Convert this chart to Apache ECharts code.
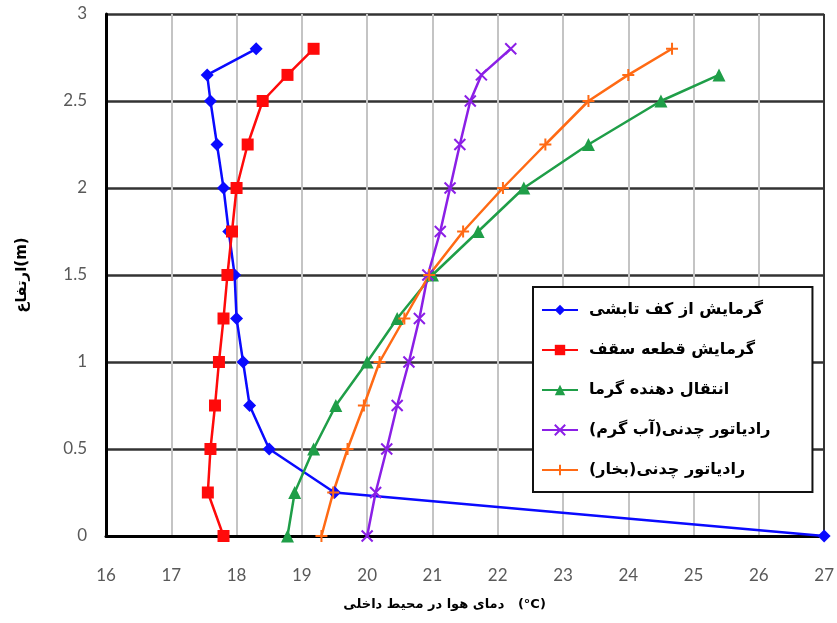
<!DOCTYPE html>
<html>
<head>
<meta charset="utf-8">
<script src="https://cdn.jsdelivr.net/npm/echarts@6/dist/echarts.min.js"></script>
<style>
  html, body { margin: 0; padding: 0; background: #fff; }
  #plot { width: 837px; height: 623px; }
</style>
</head>
<body>
<div id="plot"></div>
<script>
// ارتفاع (m)
var heights = [0, 0.25, 0.5, 0.75, 1, 1.25, 1.5, 1.75, 2, 2.25, 2.5, 2.65, 2.8];

// دمای هوا (°C) برای هر سامانه
var floorHeating = [27, 19.5, 18.5, 18.2, 18.1, 18.0, 17.97, 17.88, 17.8, 17.7, 17.6, 17.55, 18.3];
var ceilingPanel = [17.8, 17.56, 17.6, 17.67, 17.73, 17.8, 17.86, 17.93, 18.0, 18.17, 18.4, 18.78, 19.18];
var convector = [18.78, 18.89, 19.18, 19.52, 20.0, 20.46, 21.0, 21.7, 22.4, 23.39, 24.5, 25.39];
var radiatorWater = [20.0, 20.13, 20.3, 20.46, 20.64, 20.8, 20.93, 21.12, 21.27, 21.42, 21.58, 21.75, 22.2];
var radiatorSteam = [19.3, 19.48, 19.7, 19.95, 20.19, 20.57, 20.95, 21.47, 22.08, 22.73, 23.39, 24.0, 24.67];

var seriesNames = [
  'گرمایش از کف تابشی',
  'گرمایش قطعه سقف',
  'انتقال دهنده گرما',
  'رادیاتور چدنی(آب گرم)',
  'رادیاتور چدنی(بخار)'
];
var xTitle = 'دمای هوا در محیط داخلی   (°C)';
var yTitle = 'ارتفاع(m)';

var RLM = '\u200F';
function rtl(s) { return RLM + s + RLM; }

function pairs(temps) {
  return temps.map(function (t, i) { return [t, heights[i]]; });
}

var xMark = 'path://M0,0L10,10M10,0L0,10';
var plusMark = 'path://M5,0L5,10M0,5L10,5';

var styles = [
  { color: '#0a0aff', symbol: 'diamond', size: 13, border: 0 },
  { color: '#ff0a0a', symbol: 'rect', size: 12, border: 0 },
  { color: '#1f9e48', symbol: 'triangle', size: 13, border: 0 },
  { color: '#8b1fe6', symbol: xMark, size: 11, border: 2 },
  { color: '#ff6a14', symbol: plusMark, size: 12, border: 2 }
];
var allData = [floorHeating, ceilingPanel, convector, radiatorWater, radiatorSteam];

var series = allData.map(function (temps, i) {
  var st = styles[i];
  return {
    name: rtl(seriesNames[i]),
    type: 'line',
    data: pairs(temps),
    symbol: st.symbol,
    symbolSize: st.size,
    showAllSymbol: true,
    lineStyle: { color: st.color, width: 2.5 },
    itemStyle: {
      color: st.border ? 'rgba(0,0,0,0)' : st.color,
      borderColor: st.color,
      borderWidth: st.border
    },
    emphasis: { disabled: true }
  };
});

var xSplitColors = [];
for (var k = 16; k <= 27; k++) {
  xSplitColors.push(k === 27 ? '#333' : '#c4c4c4');
}

var chart = echarts.init(document.getElementById('plot'));
var option = {
  animation: false,
  backgroundColor: '#fff',
  grid: { left: 106, right: 12, top: 14, bottom: 87 },
  legend: {
    orient: 'vertical',
    left: 533,
    top: 287,
    padding: [15, 42, 14, 8],
    itemGap: 24,
    itemWidth: 36,
    itemHeight: 13,
    backgroundColor: '#fff',
    borderColor: '#111',
    borderWidth: 2,
    textStyle: {
      fontFamily: 'DejaVu Sans',
      fontWeight: 'bold',
      fontSize: 16,
      color: '#000',
      padding: [0, 0, 0, 6]
    }
  },
  xAxis: {
    type: 'value',
    min: 16,
    max: 27,
    interval: 1,
    name: xTitle,
    nameLocation: 'middle',
    nameGap: 62,
    nameTextStyle: {
      fontFamily: 'DejaVu Sans',
      fontWeight: 'bold',
      fontSize: 13,
      color: '#000',
      padding: [0, 41, 0, 0]
    },
    axisLine: { lineStyle: { color: '#000', width: 3 } },
    axisTick: { show: false },
    axisLabel: { margin: 31, fontFamily: 'Lato', fontSize: 17, color: '#595959' },
    splitLine: { show: true, lineStyle: { color: xSplitColors, width: 2 } }
  },
  yAxis: {
    type: 'value',
    min: 0,
    max: 3,
    interval: 0.5,
    name: yTitle,
    nameLocation: 'middle',
    nameRotate: 90,
    nameGap: 76,
    nameTextStyle: {
      fontFamily: 'DejaVu Sans',
      fontWeight: 'bold',
      fontSize: 15,
      color: '#000'
    },
    axisLine: { show: true, lineStyle: { color: '#000', width: 3 } },
    axisTick: { show: false },
    axisLabel: { margin: 19, fontFamily: 'Lato', fontSize: 17, color: '#595959' },
    splitLine: { show: true, lineStyle: { color: '#333', width: 2.5 } }
  },
  series: series
};
chart.setOption(option);
</script>
</body>
</html>
